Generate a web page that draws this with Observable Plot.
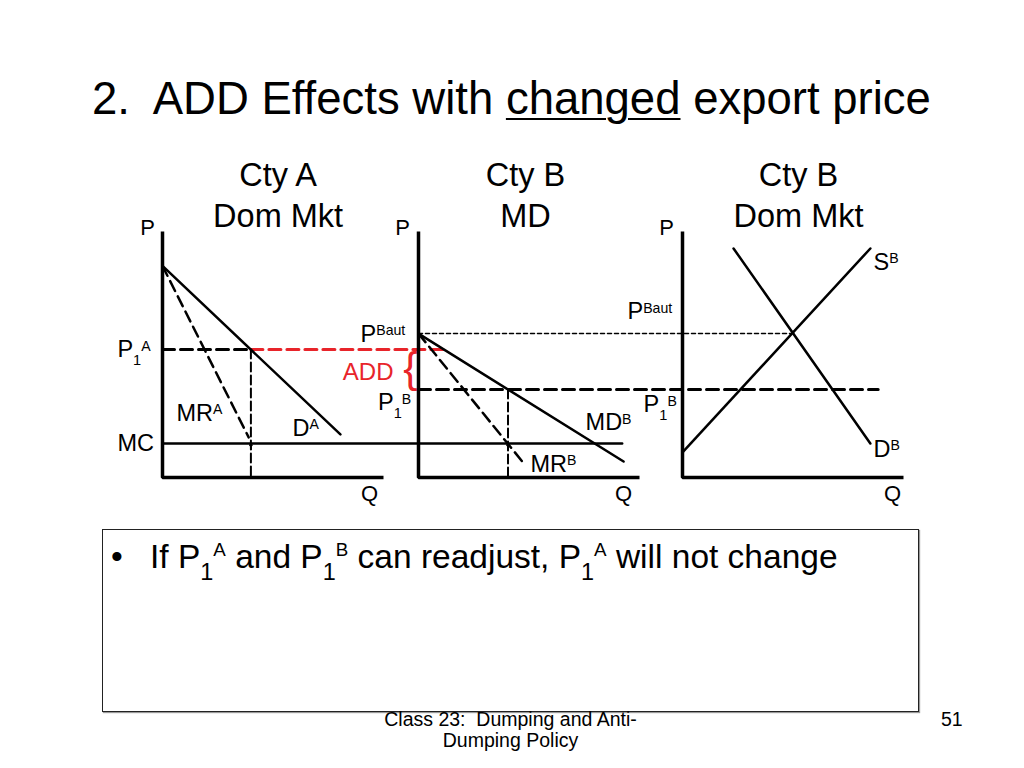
<!DOCTYPE html>
<html>
<head>
<meta charset="utf-8">
<script src="https://cdn.jsdelivr.net/npm/d3@7"></script>
<script src="https://cdn.jsdelivr.net/npm/@observablehq/plot@0.6"></script>
<style>
  html, body { margin: 0; padding: 0; background: #fff; }
  #slide { position: relative; width: 1024px; height: 768px; background: #fff; overflow: hidden;
           font-family: "Liberation Sans", Arial, sans-serif; color: #000; }
  #slide svg { overflow: visible !important; background: transparent !important; }
  .abs { position: absolute; white-space: nowrap; line-height: 1; }
  #title { left: 92px; top: 76px; font-size: 45.5px; }
  #title u { text-decoration-thickness: 2px; text-underline-offset: 4px; }
  #box { position: absolute; left: 102px; top: 529px; width: 815px; height: 181px; border: 1.5px solid #222;
         box-shadow: 1px 1px 1px #999; }
  #bullet { left: 111px; top: 540px; font-size: 33.5px; }
  #btext { left: 150px; top: 540px; font-size: 33.5px; }
  .sb { font-size: 0.7em; position: relative; top: 0.5em; }
  .sp { font-size: 0.56em; position: relative; top: -0.62em; }
  #footer { left: 355px; width: 311px; top: 709px; font-size: 19.5px; line-height: 21px; text-align: center; white-space: normal; }
  #pnum { left: 941px; top: 710px; font-size: 19.5px; }
  .panel { position: absolute; top: 131px; }
</style>
</head>
<body>
<div id="slide">
  <div id="title" class="abs">2.&nbsp; ADD Effects with <u>changed</u> export price</div>
  <div id="box"></div>
  <div id="bullet" class="abs">•</div>
  <div id="btext" class="abs">If P<span class="sb">1</span><span class="sp">A</span> and P<span class="sb">1</span><span class="sp">B</span> can readjust, P<span class="sb">1</span><span class="sp">A</span> will not change</div>
  <div id="footer" class="abs">Class 23:&nbsp; Dumping and Anti-<br>Dumping Policy</div>
  <div id="pnum" class="abs">51</div>
  <div id="pA" class="panel" style="left:102px"></div>
  <div id="pB" class="panel" style="left:358px"></div>
  <div id="pC" class="panel" style="left:622px"></div>
</div>
<script>
// ---------- economic values (abstract Q / P units, 0..10 per panel) ----------
const MC = 1.38;        // marginal cost of exporter
const P1A = 5.2;        // price in country A
const Q1A = 4.0;        // quantity in country A
const PBaut = 5.85;     // autarky price in country B
const P1B = 3.58;       // export price in country B
const Q1B = 4.05;       // exports to country B
const ADD_END = 12.8;   // red ADD line reaches MD curve (in panel-A units)
const MC_END = 20.8;    // MC line reaches across into MD panel (panel-A units)
const PBAUT_END = 16.97;// dotted autarky line reaches the Dom Mkt crossing (panel-B units)
const P1B_END = 20.8;   // P1B dashed line reaches across Dom Mkt panel (panel-B units)

const axes = [{q: 0, p: 10}, {q: 0, p: 0}, {q: 10, p: 0}];

const demandA = [{q: 0, p: 8.6}, {q: 8.05, p: 1.75}];
const mrA     = [{q: 0, p: 8.6}, {q: 3.9, p: 1.63}];
const mdB     = [{q: 0, p: PBaut}, {q: 9.28, p: 0.65}];
const mrB     = [{q: 0, p: PBaut}, {q: 4.84, p: 0.49}];
const supplyB = [{q: 0, p: 1.02}, {q: 8.5, p: 9.31}];
const demandB = [{q: 2.31, p: 9.31}, {q: 8.5, p: 1.38}];

const titles = {
  A: [{q: 5.23, p: 11.565, t: "Cty A\nDom Mkt"}],
  B: [{q: 4.84, p: 11.565, t: "Cty B\nMD"}],
  C: [{q: 5.25, p: 11.565, t: "Cty B\nDom Mkt"}]
};
const axisLabels = {
  A: [{q: -0.68, p: 10.16, t: "P"}, {q: 9.37, p: -0.65, t: "Q"}],
  B: [{q: -0.72, p: 10.16, t: "P"}, {q: 9.28, p: -0.65, t: "Q"}],
  C: [{q: -0.72, p: 10.16, t: "P"}, {q: 9.5, p: -0.65, t: "Q"}]
};
const curveLabels = {
  A: [{q: -2.04, p: P1A, t: "P_1^A"}, {q: -2.04, p: MC, t: "MC"}, {q: 0.63, p: 2.6, t: "MR^A"}, {q: 5.88, p: 2.01, t: "D^A"}],
  B: [{q: -2.62, p: 5.83, t: "P^Baut"}, {q: -1.83, p: 3.03, t: "P_1^B"}, {q: 7.56, p: 2.22, t: "MD^B"}, {q: 5.07, p: 0.53, t: "MR^B"}],
  C: [{q: -2.49, p: 6.73, t: "P^Baut"}, {q: -1.76, p: 2.95, t: "P_1^B"}, {q: 8.64, p: 8.76, t: "S^B"}, {q: 8.64, p: 1.14, t: "D^B"}]
};
const addLabel = [{q: -1.13, p: 4.29, t: "ADD"}];
const brace = [{q: -0.36, p: 4.45, t: "{"}];

const RED = "#e8242a";
const FONT = "Liberation Sans, Arial, sans-serif";

function base(marks) {
  return Plot.plot({
    width: 321, height: 386,
    marginLeft: 60, marginRight: 40, marginTop: 100, marginBottom: 40,
    x: {domain: [0, 10], axis: null},
    y: {domain: [0, 10], axis: null},
    style: {background: "transparent", overflow: "visible", fontFamily: FONT, color: "#000"},
    marks
  });
}
const seg = (data, o) => Plot.line(data, {x: "q", y: "p", stroke: "#000", ...o});
const common = (k) => [
  Plot.text(titles[k], {x: "q", y: "p", text: "t", fontSize: 32.5, lineHeight: 1.28, fill: "#000"}),
  Plot.text(axisLabels[k], {x: "q", y: "p", text: "t", fontSize: 22, fill: "#000"}),
  Plot.text(curveLabels[k], {x: "q", y: "p", text: "t", fontSize: 23.5, textAnchor: "start", fill: "#000"}),
  seg(axes, {strokeWidth: 3.5, strokeLinejoin: "miter", strokeLinecap: "butt"})
];

const panelA = base([
  seg([{q: 0, p: MC}, {q: MC_END, p: MC}], {strokeWidth: 2.5}),
  seg([{q: 0, p: P1A}, {q: Q1A, p: P1A}], {strokeWidth: 3, strokeDasharray: "12,6"}),
  seg([{q: Q1A, p: P1A}, {q: ADD_END, p: P1A}], {stroke: RED, strokeWidth: 3, strokeDasharray: "12,6"}),
  seg([{q: Q1A, p: P1A}, {q: Q1A, p: 0}], {strokeWidth: 2, strokeDasharray: "9,4"}),
  Plot.arrow([{q: Q1A}], {x1: "q", x2: "q", y1: () => 1.15, y2: () => MC, stroke: "#000", strokeWidth: 1.8, headLength: 8}),
  seg(demandA, {strokeWidth: 2.5}),
  seg(mrA, {strokeWidth: 2.5, strokeDasharray: "11,6"}),
  ...common("A")
]);
const panelB = base([
  seg([{q: 0, p: PBaut}, {q: PBAUT_END, p: PBaut}], {strokeWidth: 1.5, strokeDasharray: "4,3"}),
  seg([{q: 0, p: P1B}, {q: P1B_END, p: P1B}], {strokeWidth: 3, strokeDasharray: "12,6"}),
  seg([{q: Q1B, p: P1B}, {q: Q1B, p: 0}], {strokeWidth: 2, strokeDasharray: "9,4"}),
  Plot.arrow([{q: Q1B}], {x1: "q", x2: "q", y1: () => 1.15, y2: () => MC, stroke: "#000", strokeWidth: 1.8, headLength: 8}),
  seg(mdB, {strokeWidth: 2.5}),
  seg(mrB, {strokeWidth: 2.5, strokeDasharray: "11,6"}),
  Plot.text(addLabel, {x: "q", y: "p", text: "t", fontSize: 24, textAnchor: "end", fill: RED}),
  Plot.text(brace, {x: "q", y: "p", text: "t", fontSize: 43, fill: RED}),
  ...common("B")
]);
const panelC = base([
  seg(supplyB, {strokeWidth: 2.5}),
  seg(demandB, {strokeWidth: 2.5}),
  ...common("C")
]);

document.getElementById("pA").appendChild(panelA);
document.getElementById("pB").appendChild(panelB);
document.getElementById("pC").appendChild(panelC);

// turn "P_1^A" style label markup into real sub/superscript tspans
function richify(svg) {
  svg.querySelectorAll("text").forEach(t => {
    const s = t.textContent;
    if (!/[_^]/.test(s)) return;
    const fs = parseFloat(getComputedStyle(t).fontSize) || 22;
    const parts = s.match(/[_^][^_^\s]+|[^_^]+/g);
    t.textContent = "";
    let off = 0;
    for (const part of parts) {
      const ts = document.createElementNS("http://www.w3.org/2000/svg", "tspan");
      let target = 0, txt = part;
      if (part[0] === "_") { target = 0.33 * fs; txt = part.slice(1); ts.setAttribute("font-size", 0.62 * fs); }
      else if (part[0] === "^") { target = -0.28 * fs; txt = part.slice(1); ts.setAttribute("font-size", 0.6 * fs); }
      ts.setAttribute("dy", target - off);
      off = target;
      ts.textContent = txt;
      t.appendChild(ts);
    }
  });
}
[panelA, panelB, panelC].forEach(richify);
</script>
</body>
</html>
